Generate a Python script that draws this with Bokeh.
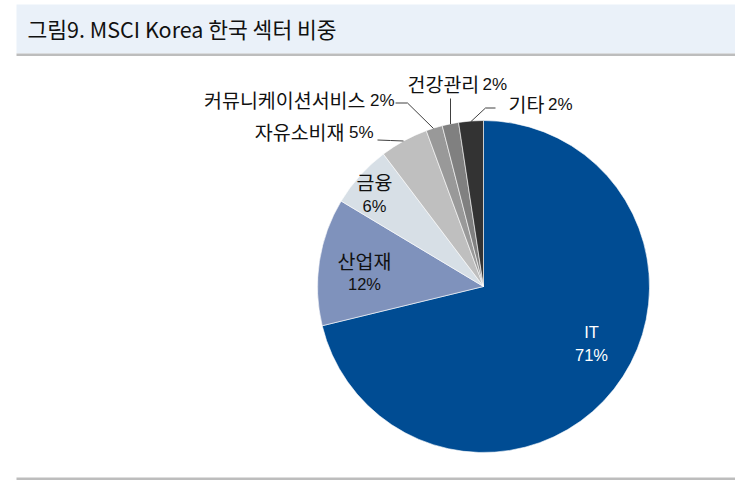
from bokeh.plotting import figure
from bokeh.models import Range1d
from bokeh.embed import file_html
from bokeh.resources import INLINE
from bokeh.core.properties import value
import numpy as np

# ---- data ----
sectors = ["IT", "산업재", "금융", "자유소비재", "커뮤니케이션서비스", "건강관리", "기타"]
weights = [71.2, 12.4, 6.1, 4.7, 1.6, 1.6, 2.4]
colors = ["#004C93", "#7F92BC", "#D7DFE6", "#BFBFBF", "#999999", "#808080", "#333333"]
title = "그림9. MSCI Korea 한국 섹터 비중"

# ---- layout (screen pixel positions) ----
W, H = 735, 484
CX, CY, R = 483, 286, 166   # pie centre / radius in screen px


def X(sx):
    return sx - CX


def Y(sy):
    return CY - sy


p = figure(width=W, height=H, output_backend="svg", toolbar_location=None,
           x_range=Range1d(X(0), X(W)), y_range=Range1d(Y(H), Y(0)),
           min_border=0, min_border_left=0, min_border_right=0,
           min_border_top=0, min_border_bottom=0)
p.axis.visible = False
p.grid.visible = False
p.outline_line_color = None
p.background_fill_color = "white"
p.border_fill_color = "white"

KFONT = value("Noto Sans CJK KR")
NFONT = value("Liberation Sans, Noto Sans CJK KR")

# title band
p.quad(left=[X(16)], right=[X(740)], top=[Y(4)], bottom=[Y(53)],
       fill_color="#EAF1F9", line_color=None)
p.quad(left=[X(16)], right=[X(740)], top=[Y(53)], bottom=[Y(55.5)],
       fill_color="#BDBDBD", line_color=None)
p.text(x=[X(27)], y=[Y(28)], text=[title], text_font=KFONT,
       text_font_size="21.5px", text_color="#111111", text_baseline="middle",
       text_align="left")

# bottom rule
p.quad(left=[X(16)], right=[X(740)], top=[Y(477)], bottom=[Y(479.5)],
       fill_color="#BDBDBD", line_color=None)

# pie
w = np.array(weights, dtype=float)
frac = w / w.sum()
cum = np.concatenate([[0.0], np.cumsum(frac)])
start = np.pi / 2 - cum[:-1] * 2 * np.pi
end = np.pi / 2 - cum[1:] * 2 * np.pi
p.wedge(x=0, y=0, radius=R, start_angle=start, end_angle=end,
        direction="clock", fill_color=colors, line_color="white", line_width=0.6)

pct = [f"{int(round(v))}%" for v in weights]
KSIZE = "19.5px"

# inside labels (name / pct on two lines)
inside = {0: (591, 331, 354, "white"), 1: (364, 260, 283, "#111111"),
          2: (374, 181, 205, "#111111")}
for i, (sx, sy1, sy2, col) in inside.items():
    p.text(x=[X(sx)], y=[Y(sy1)], text=[sectors[i]],
           text_font=NFONT if i == 0 else KFONT,
           text_font_size="16.5px" if i == 0 else KSIZE, text_color=col,
           text_align="center", text_baseline="middle")
    p.text(x=[X(sx)], y=[Y(sy2)], text=[pct[i]], text_font=NFONT,
           text_font_size="16.5px", text_color=col, text_align="center",
           text_baseline="middle")

# outside labels, anchored at the leader: (name x, align, pct x, align, y)
outside = {3: (344, "right", 373, "right", 131),
           4: (365, "right", 394, "right", 99),
           5: (407, "left", 482, "left", 83),
           6: (508, "left", 547.5, "left", 103)}
for i, (nx, na, px, pa, sy) in outside.items():
    p.text(x=[X(nx)], y=[Y(sy)], text=[sectors[i]], text_font=KFONT,
           text_font_size=KSIZE, text_color="#111111", text_align=na,
           text_baseline="middle")
    p.text(x=[X(px)], y=[Y(sy + 0.5)], text=[pct[i]], text_font=NFONT,
           text_font_size="17px", text_color="#111111", text_align=pa,
           text_baseline="middle")

# leader lines
leaders = [
    [(377, 139.5), (390, 140), (403, 140.5)],
    [(395, 102.5), (407, 102.5), (433, 128)],
    [(450, 98), (450, 123.5)],
    [(495, 107.5), (485, 107.5), (470.5, 121)],
]
p.multi_line(xs=[[X(a) for a, b in L] for L in leaders],
             ys=[[Y(b) for a, b in L] for L in leaders],
             line_color="#404040", line_width=1)

open("out.html", "w").write(file_html(p, INLINE))
